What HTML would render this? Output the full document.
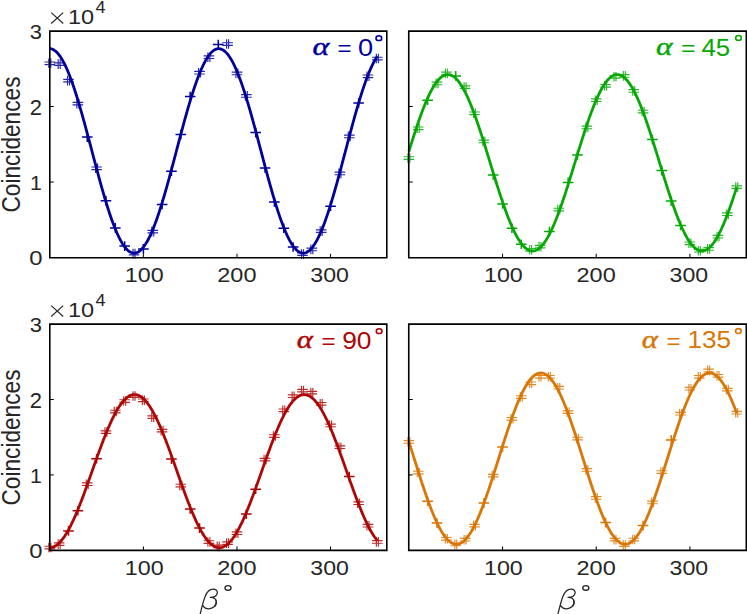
<!DOCTYPE html>
<html><head><meta charset="utf-8"><style>html,body{margin:0;padding:0;background:#fff;overflow:hidden}svg{display:block}</style></head><body>
<svg width="747" height="614" viewBox="0 0 747 614">
<rect width="747" height="614" fill="#fff"/>
<polyline points="49.80,48.67 50.74,48.75 51.67,48.96 52.61,49.29 53.54,49.75 54.48,50.33 55.41,51.03 56.35,51.85 57.29,52.79 58.22,53.85 59.16,55.02 60.09,56.32 61.03,57.72 61.97,59.24 62.90,60.87 63.84,62.61 64.77,64.46 65.71,66.41 66.64,68.46 67.58,70.61 68.52,72.86 69.45,75.21 70.39,77.64 71.32,80.16 72.26,82.77 73.20,85.47 74.13,88.24 75.07,91.08 76.00,94.00 76.94,96.99 77.88,100.04 78.81,103.16 79.75,106.33 80.68,109.56 81.62,112.83 82.55,116.15 83.49,119.52 84.43,122.92 85.36,126.36 86.30,129.82 87.23,133.31 88.17,136.83 89.10,140.36 90.04,143.90 90.98,147.45 91.91,151.00 92.85,154.56 93.78,158.11 94.72,161.65 95.66,165.18 96.59,168.69 97.53,172.18 98.46,175.64 99.40,179.08 100.33,182.48 101.27,185.84 102.21,189.16 103.14,192.43 104.08,195.66 105.01,198.83 105.95,201.94 106.89,204.99 107.82,207.97 108.76,210.88 109.69,213.73 110.63,216.49 111.56,219.18 112.50,221.79 113.44,224.30 114.37,226.73 115.31,229.07 116.24,231.32 117.18,233.46 118.12,235.51 119.05,237.45 119.99,239.29 120.92,241.03 121.86,242.65 122.79,244.16 123.73,245.56 124.67,246.85 125.60,248.02 126.54,249.07 127.47,250.00 128.41,250.82 129.35,251.51 130.28,252.08 131.22,252.53 132.15,252.86 133.09,253.06 134.02,253.14 134.96,253.09 135.90,252.93 136.83,252.63 137.77,252.22 138.70,251.68 139.64,251.02 140.58,250.24 141.51,249.34 142.45,248.32 143.38,247.19 144.32,245.93 145.25,244.57 146.19,243.08 147.13,241.49 148.06,239.79 149.00,237.98 149.93,236.06 150.87,234.04 151.81,231.92 152.74,229.71 153.68,227.40 154.61,224.99 155.55,222.50 156.49,219.92 157.42,217.25 158.36,214.51 159.29,211.68 160.23,208.79 161.16,205.82 162.10,202.79 163.04,199.70 163.97,196.55 164.91,193.34 165.84,190.08 166.78,186.77 167.71,183.42 168.65,180.03 169.59,176.60 170.52,173.15 171.46,169.66 172.39,166.16 173.33,162.63 174.27,159.10 175.20,155.55 176.14,151.99 177.07,148.44 178.01,144.89 178.94,141.34 179.88,137.81 180.82,134.29 181.75,130.79 182.69,127.32 183.62,123.88 184.56,120.46 185.50,117.09 186.43,113.75 187.37,110.46 188.30,107.22 189.24,104.04 190.18,100.91 191.11,97.83 192.05,94.83 192.98,91.89 193.92,89.02 194.85,86.23 195.79,83.52 196.73,80.88 197.66,78.34 198.60,75.88 199.53,73.51 200.47,71.23 201.40,69.05 202.34,66.97 203.28,64.99 204.21,63.12 205.15,61.35 206.08,59.69 207.02,58.14 207.96,56.70 208.89,55.37 209.83,54.16 210.76,53.07 211.70,52.10 212.63,51.24 213.57,50.51 214.51,49.90 215.44,49.41 216.38,49.04 217.31,48.80 218.25,48.68 219.19,48.68 220.12,48.81 221.06,49.06 221.99,49.43 222.93,49.93 223.87,50.54 224.80,51.28 225.74,52.14 226.67,53.12 227.61,54.22 228.54,55.44 229.48,56.77 230.42,58.21 231.35,59.77 232.29,61.43 233.22,63.21 234.16,65.09 235.09,67.07 236.03,69.16 236.97,71.34 237.90,73.62 238.84,75.99 239.77,78.46 240.71,81.01 241.65,83.65 242.58,86.37 243.52,89.16 244.45,92.03 245.39,94.98 246.32,97.98 247.26,101.06 248.20,104.19 249.13,107.38 250.07,110.63 251.00,113.92 251.94,117.25 252.88,120.63 253.81,124.04 254.75,127.49 255.68,130.96 256.62,134.46 257.55,137.98 258.49,141.52 259.43,145.06 260.36,148.61 261.30,152.17 262.23,155.72 263.17,159.27 264.11,162.81 265.04,166.33 265.98,169.84 266.91,173.32 267.85,176.77 268.78,180.20 269.72,183.59 270.66,186.93 271.59,190.24 272.53,193.50 273.46,196.70 274.40,199.85 275.34,202.94 276.27,205.97 277.21,208.93 278.14,211.83 279.08,214.64 280.01,217.38 280.95,220.04 281.89,222.62 282.82,225.11 283.76,227.51 284.69,229.82 285.63,232.03 286.57,234.15 287.50,236.16 288.44,238.07 289.37,239.87 290.31,241.57 291.25,243.16 292.18,244.64 293.12,246.00 294.05,247.25 294.99,248.38 295.92,249.39 296.86,250.28 297.80,251.06 298.73,251.71 299.67,252.24 300.60,252.65 301.54,252.94 302.48,253.10 303.41,253.14 304.35,253.05 305.28,252.84 306.22,252.51 307.15,252.06 308.09,251.48 309.03,250.78 309.96,249.96 310.90,249.02 311.83,247.96 312.77,246.79 313.70,245.50 314.64,244.09 315.58,242.57 316.51,240.94 317.45,239.21 318.38,237.36 319.32,235.41 320.26,233.36 321.19,231.21 322.13,228.96 323.06,226.62 324.00,224.18 324.94,221.66 325.87,219.05 326.81,216.36 327.74,213.59 328.68,210.74 329.61,207.82 330.55,204.84 331.49,201.78 332.42,198.67 333.36,195.50 334.29,192.27 335.23,189.00 336.17,185.68 337.10,182.31 338.04,178.91 338.97,175.47 339.91,172.01 340.84,168.52 341.78,165.01 342.72,161.48 343.65,157.93 344.59,154.38 345.52,150.83 346.46,147.27 347.39,143.72 348.33,140.18 349.27,136.65 350.20,133.14 351.14,129.65 352.07,126.19 353.01,122.75 353.95,119.35 354.88,115.99 355.82,112.67 356.75,109.40 357.69,106.17 358.62,103.00 359.56,99.89 360.50,96.84 361.43,93.86 362.37,90.94 363.30,88.10 364.24,85.33 365.18,82.64 366.11,80.04 367.05,77.52 367.98,75.09 368.92,72.75 369.85,70.50 370.79,68.36 371.73,66.31 372.66,64.36 373.60,62.52 374.53,60.79 375.47,59.17 376.41,57.65 377.34,56.25" fill="none" stroke="#00009c" stroke-width="2.8" stroke-linejoin="round"/>
<path d="M81.93,137.10h10.6M87.23,132.30v9.6M100.65,200.70h10.6M105.95,195.90v9.6M110.01,227.90h10.6M115.31,223.10v9.6M119.37,246.10h10.6M124.67,241.30v9.6M138.08,248.90h10.6M143.38,244.10v9.6M156.80,204.50h10.6M162.10,199.70v9.6M166.16,171.20h10.6M171.46,166.40v9.6M175.52,134.50h10.6M180.82,129.70v9.6M184.88,96.50h10.6M190.18,91.70v9.6M212.95,44.60h10.6M218.25,39.80v9.6M250.38,132.60h10.6M255.68,127.80v9.6M259.74,168.00h10.6M265.04,163.20v9.6M269.10,202.00h10.6M274.40,197.20v9.6M278.46,228.30h10.6M283.76,223.50v9.6M287.82,247.00h10.6M293.12,242.20v9.6M325.25,206.20h10.6M330.55,201.40v9.6M353.32,103.00h10.6M358.62,98.20v9.6" stroke="#00009c" stroke-width="1.5" fill="none"/>
<path d="M44.50,62.00h10.6M44.50,64.60h10.6M48.80,58.50v9.6M50.80,58.50v9.6M53.86,62.80h10.6M53.86,65.40h10.6M58.16,59.30v9.6M60.16,59.30v9.6M63.22,79.30h10.6M63.22,81.90h10.6M67.52,75.80v9.6M69.52,75.80v9.6M72.58,102.30h10.6M72.58,104.90h10.6M76.88,98.80v9.6M78.88,98.80v9.6M91.29,167.00h10.6M91.29,169.60h10.6M95.59,163.50v9.6M97.59,163.50v9.6M128.72,252.30h10.6M128.72,254.90h10.6M133.02,248.80v9.6M135.02,248.80v9.6M147.44,230.30h10.6M147.44,232.90h10.6M151.74,226.80v9.6M153.74,226.80v9.6M194.23,71.40h10.6M194.23,74.00h10.6M198.53,67.90v9.6M200.53,67.90v9.6M203.59,55.90h10.6M203.59,58.50h10.6M207.89,52.40v9.6M209.89,52.40v9.6M222.31,42.70h10.6M222.31,45.30h10.6M226.61,39.20v9.6M228.61,39.20v9.6M231.67,72.10h10.6M231.67,74.70h10.6M235.97,68.60v9.6M237.97,68.60v9.6M241.02,94.60h10.6M241.02,97.20h10.6M245.32,91.10v9.6M247.32,91.10v9.6M297.18,252.80h10.6M297.18,255.40h10.6M301.48,249.30v9.6M303.48,249.30v9.6M306.53,248.10h10.6M306.53,250.70h10.6M310.83,244.60v9.6M312.83,244.60v9.6M315.89,229.80h10.6M315.89,232.40h10.6M320.19,226.30v9.6M322.19,226.30v9.6M334.61,172.10h10.6M334.61,174.70h10.6M338.91,168.60v9.6M340.91,168.60v9.6M343.97,135.10h10.6M343.97,137.70h10.6M348.27,131.60v9.6M350.27,131.60v9.6M362.68,75.00h10.6M362.68,77.60h10.6M366.98,71.50v9.6M368.98,71.50v9.6M372.04,57.20h10.6M372.04,59.80h10.6M376.34,53.70v9.6M378.34,53.70v9.6" stroke="#00009c" stroke-width="1.15" stroke-opacity="0.85" fill="none"/>
<path d="M49.80,31.15H386.80V257.75H49.80Z" fill="none" stroke="#000000" stroke-width="1.6"/>
<path d="M143.38,257.75v-4.0M236.97,257.75v-4.0M330.55,257.75v-4.0M49.80,182.03h4.0M49.80,106.52h4.0" stroke="#000000" stroke-width="1"/>
<polyline points="408.90,151.48 409.84,148.45 410.77,145.43 411.71,142.44 412.65,139.47 413.58,136.53 414.52,133.62 415.46,130.74 416.39,127.91 417.33,125.12 418.27,122.37 419.20,119.67 420.14,117.02 421.08,114.43 422.01,111.89 422.95,109.42 423.89,107.01 424.82,104.67 425.76,102.40 426.70,100.20 427.63,98.08 428.57,96.04 429.51,94.07 430.44,92.19 431.38,90.39 432.32,88.69 433.25,87.07 434.19,85.54 435.13,84.10 436.06,82.76 437.00,81.52 437.94,80.37 438.87,79.33 439.81,78.38 440.75,77.54 441.68,76.80 442.62,76.16 443.56,75.63 444.49,75.20 445.43,74.88 446.37,74.66 447.30,74.55 448.24,74.55 449.18,74.65 450.11,74.86 451.05,75.17 451.99,75.60 452.92,76.12 453.86,76.75 454.80,77.49 455.73,78.32 456.67,79.26 457.61,80.30 458.54,81.44 459.48,82.68 460.42,84.01 461.35,85.44 462.29,86.96 463.23,88.58 464.16,90.28 465.10,92.07 466.04,93.95 466.97,95.91 467.91,97.95 468.85,100.06 469.78,102.26 470.72,104.52 471.66,106.86 472.59,109.26 473.53,111.73 474.47,114.26 475.40,116.85 476.34,119.49 477.28,122.19 478.21,124.93 479.15,127.73 480.09,130.56 481.02,133.43 481.96,136.34 482.90,139.28 483.83,142.24 484.77,145.24 485.71,148.25 486.64,151.28 487.58,154.32 488.52,157.38 489.45,160.44 490.39,163.50 491.33,166.57 492.26,169.63 493.20,172.68 494.14,175.71 495.07,178.74 496.01,181.74 496.95,184.72 497.88,187.67 498.82,190.60 499.76,193.49 500.69,196.34 501.63,199.15 502.57,201.92 503.50,204.65 504.44,207.32 505.38,209.93 506.31,212.49 507.25,214.99 508.19,217.43 509.12,219.80 510.06,222.11 511.00,224.34 511.93,226.49 512.87,228.57 513.81,230.57 514.74,232.49 515.68,234.33 516.62,236.08 517.55,237.74 518.49,239.30 519.43,240.78 520.36,242.16 521.30,243.45 522.24,244.64 523.17,245.73 524.11,246.72 525.05,247.61 525.98,248.40 526.92,249.08 527.86,249.66 528.79,250.14 529.73,250.51 530.67,250.77 531.60,250.93 532.54,250.98 533.48,250.92 534.41,250.76 535.35,250.50 536.29,250.12 537.22,249.64 538.16,249.06 539.10,248.37 540.03,247.58 540.97,246.69 541.91,245.69 542.84,244.60 543.78,243.40 544.72,242.11 545.65,240.73 546.59,239.24 547.53,237.67 548.46,236.01 549.40,234.26 550.34,232.42 551.27,230.50 552.21,228.49 553.15,226.41 554.08,224.25 555.02,222.02 555.96,219.71 556.89,217.34 557.83,214.90 558.77,212.39 559.70,209.83 560.64,207.21 561.58,204.54 562.51,201.82 563.45,199.04 564.39,196.23 565.32,193.38 566.26,190.48 567.20,187.56 568.13,184.60 569.07,181.62 570.01,178.62 570.94,175.59 571.88,172.56 572.82,169.51 573.75,166.45 574.69,163.38 575.63,160.32 576.56,157.26 577.50,154.20 578.44,151.16 579.37,148.13 580.31,145.12 581.25,142.13 582.18,139.16 583.12,136.22 584.06,133.32 584.99,130.45 585.93,127.61 586.87,124.83 587.80,122.08 588.74,119.39 589.68,116.75 590.61,114.16 591.55,111.63 592.49,109.17 593.42,106.77 594.36,104.43 595.30,102.17 596.23,99.98 597.17,97.86 598.11,95.83 599.04,93.87 599.98,92.00 600.92,90.21 601.85,88.51 602.79,86.90 603.73,85.38 604.66,83.96 605.60,82.63 606.54,81.39 607.47,80.26 608.41,79.22 609.35,78.29 610.28,77.46 611.22,76.73 612.16,76.10 613.09,75.58 614.03,75.16 614.97,74.85 615.90,74.64 616.84,74.55 617.78,74.55 618.71,74.67 619.65,74.89 620.59,75.21 621.52,75.65 622.46,76.18 623.40,76.82 624.33,77.57 625.27,78.42 626.21,79.37 627.14,80.42 628.08,81.57 629.02,82.81 629.95,84.16 630.89,85.60 631.83,87.13 632.76,88.75 633.70,90.46 634.64,92.26 635.57,94.15 636.51,96.12 637.45,98.16 638.38,100.29 639.32,102.49 640.26,104.76 641.19,107.11 642.13,109.52 643.07,111.99 644.00,114.53 644.94,117.12 645.88,119.77 646.81,122.47 647.75,125.22 648.69,128.02 649.62,130.86 650.56,133.73 651.50,136.64 652.43,139.59 653.37,142.56 654.31,145.55 655.24,148.56 656.18,151.60 657.12,154.64 658.05,157.70 658.99,160.76 659.93,163.82 660.86,166.89 661.80,169.95 662.74,172.99 663.67,176.03 664.61,179.05 665.55,182.05 666.48,185.03 667.42,187.98 668.36,190.90 669.29,193.79 670.23,196.64 671.17,199.45 672.10,202.21 673.04,204.93 673.98,207.59 674.91,210.20 675.85,212.76 676.79,215.25 677.72,217.68 678.66,220.05 679.60,222.34 680.53,224.57 681.47,226.71 682.41,228.79 683.34,230.78 684.28,232.69 685.22,234.51 686.15,236.25 687.09,237.90 688.03,239.46 688.96,240.93 689.90,242.30 690.84,243.58 691.77,244.76 692.71,245.84 693.65,246.82 694.58,247.70 695.52,248.48 696.46,249.15 697.39,249.72 698.33,250.18 699.27,250.54 700.20,250.79 701.14,250.94 702.08,250.98 703.01,250.91 703.95,250.74 704.89,250.46 705.82,250.08 706.76,249.59 707.70,248.99 708.63,248.29 709.57,247.49 710.51,246.59 711.44,245.58 712.38,244.48 713.32,243.27 714.25,241.97 715.19,240.57 716.13,239.08 717.06,237.50 718.00,235.83 718.94,234.07 719.87,232.22 720.81,230.29 721.75,228.28 722.68,226.19 723.62,224.02 724.56,221.78 725.49,219.47 726.43,217.09 727.37,214.64 728.30,212.13 729.24,209.56 730.18,206.94 731.11,204.26 732.05,201.53 732.99,198.75 733.92,195.93 734.86,193.08 735.80,190.18 736.73,187.25" fill="none" stroke="#06a806" stroke-width="2.8" stroke-linejoin="round"/>
<path d="M422.33,100.20h10.6M427.63,95.40v9.6M450.43,75.90h10.6M455.73,71.10v9.6M487.90,174.90h10.6M493.20,170.10v9.6M497.27,203.90h10.6M502.57,199.10v9.6M506.63,228.30h10.6M511.93,223.50v9.6M516.00,244.20h10.6M521.30,239.40v9.6M544.10,231.60h10.6M549.40,226.80v9.6M562.83,182.40h10.6M568.13,177.60v9.6M572.20,154.90h10.6M577.50,150.10v9.6M647.13,139.60h10.6M652.43,134.80v9.6M656.50,170.60h10.6M661.80,165.80v9.6M665.87,201.10h10.6M671.17,196.30v9.6M675.23,225.50h10.6M680.53,220.70v9.6" stroke="#06a806" stroke-width="1.5" fill="none"/>
<path d="M403.60,156.70h10.6M403.60,159.30h10.6M407.90,153.20v9.6M409.90,153.20v9.6M412.97,127.00h10.6M412.97,129.60h10.6M417.27,123.50v9.6M419.27,123.50v9.6M431.70,82.10h10.6M431.70,84.70h10.6M436.00,78.60v9.6M438.00,78.60v9.6M441.07,72.10h10.6M441.07,74.70h10.6M445.37,68.60v9.6M447.37,68.60v9.6M459.80,85.80h10.6M459.80,88.40h10.6M464.10,82.30v9.6M466.10,82.30v9.6M469.17,112.00h10.6M469.17,114.60h10.6M473.47,108.50v9.6M475.47,108.50v9.6M478.53,140.10h10.6M478.53,142.70h10.6M482.83,136.60v9.6M484.83,136.60v9.6M525.37,248.50h10.6M525.37,251.10h10.6M529.67,245.00v9.6M531.67,245.00v9.6M534.73,245.30h10.6M534.73,247.90h10.6M539.03,241.80v9.6M541.03,241.80v9.6M553.47,208.20h10.6M553.47,210.80h10.6M557.77,204.70v9.6M559.77,204.70v9.6M581.57,126.10h10.6M581.57,128.70h10.6M585.87,122.60v9.6M587.87,122.60v9.6M590.93,98.90h10.6M590.93,101.50h10.6M595.23,95.40v9.6M597.23,95.40v9.6M600.30,84.50h10.6M600.30,87.10h10.6M604.60,81.00v9.6M606.60,81.00v9.6M609.67,75.50h10.6M609.67,78.10h10.6M613.97,72.00v9.6M615.97,72.00v9.6M619.03,74.60h10.6M619.03,77.20h10.6M623.33,71.10v9.6M625.33,71.10v9.6M628.40,89.60h10.6M628.40,92.20h10.6M632.70,86.10v9.6M634.70,86.10v9.6M637.77,110.20h10.6M637.77,112.80h10.6M642.07,106.70v9.6M644.07,106.70v9.6M684.60,242.00h10.6M684.60,244.60h10.6M688.90,238.50v9.6M690.90,238.50v9.6M693.97,249.40h10.6M693.97,252.00h10.6M698.27,245.90v9.6M700.27,245.90v9.6M703.33,247.60h10.6M703.33,250.20h10.6M707.63,244.10v9.6M709.63,244.10v9.6M712.70,235.40h10.6M712.70,238.00h10.6M717.00,231.90v9.6M719.00,231.90v9.6M722.07,212.90h10.6M722.07,215.50h10.6M726.37,209.40v9.6M728.37,209.40v9.6M731.43,185.80h10.6M731.43,188.40h10.6M735.73,182.30v9.6M737.73,182.30v9.6" stroke="#06a806" stroke-width="1.15" stroke-opacity="0.85" fill="none"/>
<path d="M408.75,31.15H746.30V257.75H408.75Z" fill="none" stroke="#000000" stroke-width="1.6"/>
<path d="M502.57,257.75v-4.0M596.23,257.75v-4.0M689.90,257.75v-4.0M408.75,182.03h4.0M408.75,106.52h4.0" stroke="#000000" stroke-width="1"/>
<polyline points="49.80,547.68 50.74,547.62 51.67,547.47 52.61,547.23 53.54,546.90 54.48,546.48 55.41,545.97 56.35,545.37 57.29,544.67 58.22,543.89 59.16,543.03 60.09,542.07 61.03,541.04 61.97,539.91 62.90,538.71 63.84,537.42 64.77,536.06 65.71,534.61 66.64,533.09 67.58,531.50 68.52,529.83 69.45,528.09 70.39,526.29 71.32,524.41 72.26,522.48 73.20,520.48 74.13,518.42 75.07,516.31 76.00,514.14 76.94,511.92 77.88,509.65 78.81,507.34 79.75,504.98 80.68,502.58 81.62,500.14 82.55,497.67 83.49,495.17 84.43,492.63 85.36,490.07 86.30,487.49 87.23,484.89 88.17,482.27 89.10,479.64 90.04,477.00 90.98,474.35 91.91,471.70 92.85,469.05 93.78,466.40 94.72,463.76 95.66,461.12 96.59,458.50 97.53,455.89 98.46,453.30 99.40,450.73 100.33,448.19 101.27,445.67 102.21,443.18 103.14,440.73 104.08,438.32 105.01,435.94 105.95,433.61 106.89,431.32 107.82,429.08 108.76,426.88 109.69,424.75 110.63,422.67 111.56,420.64 112.50,418.68 113.44,416.78 114.37,414.94 115.31,413.18 116.24,411.48 117.18,409.85 118.12,408.30 119.05,406.83 119.99,405.43 120.92,404.11 121.86,402.87 122.79,401.71 123.73,400.63 124.67,399.64 125.60,398.74 126.54,397.92 127.47,397.19 128.41,396.55 129.35,396.00 130.28,395.54 131.22,395.17 132.15,394.89 133.09,394.71 134.02,394.61 134.96,394.61 135.90,394.70 136.83,394.88 137.77,395.15 138.70,395.51 139.64,395.97 140.58,396.51 141.51,397.15 142.45,397.87 143.38,398.68 144.32,399.58 145.25,400.56 146.19,401.63 147.13,402.79 148.06,404.02 149.00,405.34 149.93,406.73 150.87,408.20 151.81,409.75 152.74,411.37 153.68,413.06 154.61,414.83 155.55,416.66 156.49,418.55 157.42,420.51 158.36,422.53 159.29,424.61 160.23,426.74 161.16,428.93 162.10,431.17 163.04,433.45 163.97,435.78 164.91,438.16 165.84,440.57 166.78,443.02 167.71,445.50 168.65,448.02 169.59,450.56 170.52,453.13 171.46,455.72 172.39,458.32 173.33,460.95 174.27,463.58 175.20,466.22 176.14,468.87 177.07,471.53 178.01,474.18 178.94,476.83 179.88,479.47 180.82,482.10 181.75,484.72 182.69,487.32 183.62,489.90 184.56,492.46 185.50,495.00 186.43,497.50 187.37,499.98 188.30,502.42 189.24,504.82 190.18,507.18 191.11,509.50 192.05,511.77 192.98,513.99 193.92,516.17 194.85,518.28 195.79,520.34 196.73,522.35 197.66,524.29 198.60,526.16 199.53,527.97 200.47,529.72 201.40,531.39 202.34,532.99 203.28,534.51 204.21,535.96 205.15,537.33 206.08,538.62 207.02,539.84 207.96,540.96 208.89,542.01 209.83,542.97 210.76,543.84 211.70,544.63 212.63,545.32 213.57,545.93 214.51,546.45 215.44,546.88 216.38,547.21 217.31,547.46 218.25,547.61 219.19,547.67 220.12,547.64 221.06,547.52 221.99,547.31 222.93,547.00 223.87,546.61 224.80,546.12 225.74,545.54 226.67,544.88 227.61,544.12 228.54,543.28 229.48,542.35 230.42,541.33 231.35,540.24 232.29,539.05 233.22,537.79 234.16,536.45 235.09,535.02 236.03,533.52 236.97,531.95 237.90,530.30 238.84,528.59 239.77,526.80 240.71,524.94 241.65,523.03 242.58,521.04 243.52,519.00 244.45,516.91 245.39,514.75 246.32,512.55 247.26,510.29 248.20,507.99 249.13,505.64 250.07,503.25 251.00,500.83 251.94,498.36 252.88,495.87 253.81,493.34 254.75,490.79 255.68,488.22 256.62,485.62 257.55,483.01 258.49,480.38 259.43,477.74 260.36,475.10 261.30,472.45 262.23,469.79 263.17,467.14 264.11,464.50 265.04,461.86 265.98,459.23 266.91,456.62 267.85,454.02 268.78,451.45 269.72,448.90 270.66,446.37 271.59,443.88 272.53,441.41 273.46,438.99 274.40,436.60 275.34,434.25 276.27,431.95 277.21,429.70 278.14,427.49 279.08,425.34 280.01,423.24 280.95,421.20 281.89,419.22 282.82,417.30 283.76,415.45 284.69,413.67 285.63,411.95 286.57,410.30 287.50,408.73 288.44,407.23 289.37,405.81 290.31,404.47 291.25,403.20 292.18,402.02 293.12,400.93 294.05,399.91 294.99,398.98 295.92,398.14 296.86,397.39 297.80,396.72 298.73,396.15 299.67,395.66 300.60,395.27 301.54,394.96 302.48,394.75 303.41,394.63 304.35,394.60 305.28,394.66 306.22,394.82 307.15,395.07 308.09,395.40 309.03,395.83 309.96,396.35 310.90,396.96 311.83,397.66 312.77,398.45 313.70,399.32 314.64,400.28 315.58,401.33 316.51,402.46 317.45,403.67 318.38,404.96 319.32,406.33 320.26,407.78 321.19,409.31 322.13,410.91 323.06,412.58 324.00,414.33 324.94,416.14 325.87,418.01 326.81,419.96 327.74,421.96 328.68,424.02 329.61,426.14 330.55,428.31 331.49,430.54 332.42,432.81 333.36,435.13 334.29,437.49 335.23,439.89 336.17,442.33 337.10,444.81 338.04,447.31 338.97,449.85 339.91,452.41 340.84,454.99 341.78,457.59 342.72,460.21 343.65,462.84 344.59,465.48 345.52,468.13 346.46,470.78 347.39,473.44 348.33,476.09 349.27,478.73 350.20,481.37 351.14,483.99 352.07,486.59 353.01,489.18 353.95,491.75 354.88,494.29 355.82,496.81 356.75,499.29 357.69,501.74 358.62,504.15 359.56,506.52 360.50,508.85 361.43,511.14 362.37,513.38 363.30,515.56 364.24,517.70 365.18,519.77 366.11,521.79 367.05,523.75 367.98,525.65 368.92,527.47 369.85,529.24 370.79,530.93 371.73,532.55 372.66,534.09 373.60,535.56 374.53,536.96 375.47,538.27 376.41,539.50 377.34,540.66" fill="none" stroke="#ae0606" stroke-width="2.8" stroke-linejoin="round"/>
<path d="M63.22,530.90h10.6M68.52,526.10v9.6M72.58,510.70h10.6M77.88,505.90v9.6M91.29,458.70h10.6M96.59,453.90v9.6M166.16,459.10h10.6M171.46,454.30v9.6M184.88,509.00h10.6M190.18,504.20v9.6M194.23,528.10h10.6M199.53,523.30v9.6M241.02,514.10h10.6M246.32,509.30v9.6M250.38,489.20h10.6M255.68,484.40v9.6M343.97,476.60h10.6M349.27,471.80v9.6" stroke="#ae0606" stroke-width="1.5" fill="none"/>
<path d="M44.50,546.20h10.6M44.50,548.80h10.6M48.80,542.70v9.6M50.80,542.70v9.6M53.86,542.80h10.6M53.86,545.40h10.6M58.16,539.30v9.6M60.16,539.30v9.6M81.93,482.90h10.6M81.93,485.50h10.6M86.23,479.40v9.6M88.23,479.40v9.6M100.65,430.80h10.6M100.65,433.40h10.6M104.95,427.30v9.6M106.95,427.30v9.6M110.01,410.20h10.6M110.01,412.80h10.6M114.31,406.70v9.6M116.31,406.70v9.6M119.37,399.70h10.6M119.37,402.30h10.6M123.67,396.20v9.6M125.67,396.20v9.6M128.72,394.70h10.6M128.72,397.30h10.6M133.02,391.20v9.6M135.02,391.20v9.6M138.08,399.00h10.6M138.08,401.60h10.6M142.38,395.50v9.6M144.38,395.50v9.6M147.44,415.80h10.6M147.44,418.40h10.6M151.74,412.30v9.6M153.74,412.30v9.6M156.80,429.30h10.6M156.80,431.90h10.6M161.10,425.80v9.6M163.10,425.80v9.6M175.52,484.20h10.6M175.52,486.80h10.6M179.82,480.70v9.6M181.82,480.70v9.6M203.59,540.70h10.6M203.59,543.30h10.6M207.89,537.20v9.6M209.89,537.20v9.6M212.95,545.10h10.6M212.95,547.70h10.6M217.25,541.60v9.6M219.25,541.60v9.6M222.31,541.80h10.6M222.31,544.40h10.6M226.61,538.30v9.6M228.61,538.30v9.6M231.67,531.90h10.6M231.67,534.50h10.6M235.97,528.40v9.6M237.97,528.40v9.6M259.74,458.30h10.6M259.74,460.90h10.6M264.04,454.80v9.6M266.04,454.80v9.6M269.10,434.70h10.6M269.10,437.30h10.6M273.40,431.20v9.6M275.40,431.20v9.6M278.46,409.00h10.6M278.46,411.60h10.6M282.76,405.50v9.6M284.76,405.50v9.6M287.82,394.90h10.6M287.82,397.50h10.6M292.12,391.40v9.6M294.12,391.40v9.6M297.18,389.30h10.6M297.18,391.90h10.6M301.48,385.80v9.6M303.48,385.80v9.6M306.53,391.30h10.6M306.53,393.90h10.6M310.83,387.80v9.6M312.83,387.80v9.6M315.89,402.50h10.6M315.89,405.10h10.6M320.19,399.00v9.6M322.19,399.00v9.6M325.25,424.10h10.6M325.25,426.70h10.6M329.55,420.60v9.6M331.55,420.60v9.6M334.61,445.90h10.6M334.61,448.50h10.6M338.91,442.40v9.6M340.91,442.40v9.6M353.32,501.90h10.6M353.32,504.50h10.6M357.62,498.40v9.6M359.62,498.40v9.6M362.68,524.40h10.6M362.68,527.00h10.6M366.98,520.90v9.6M368.98,520.90v9.6M372.04,540.60h10.6M372.04,543.20h10.6M376.34,537.10v9.6M378.34,537.10v9.6" stroke="#ae0606" stroke-width="1.15" stroke-opacity="0.85" fill="none"/>
<path d="M49.80,324.15H386.80V550.40H49.80Z" fill="none" stroke="#000000" stroke-width="1.6"/>
<path d="M143.38,550.40v-4.0M236.97,550.40v-4.0M330.55,550.40v-4.0M49.80,474.93h4.0M49.80,399.47h4.0" stroke="#000000" stroke-width="1"/>
<polyline points="408.90,441.74 409.84,444.67 410.77,447.63 411.71,450.60 412.65,453.57 413.58,456.56 414.52,459.54 415.46,462.53 416.39,465.51 417.33,468.48 418.27,471.44 419.20,474.39 420.14,477.31 421.08,480.21 422.01,483.09 422.95,485.94 423.89,488.75 424.82,491.53 425.76,494.27 426.70,496.96 427.63,499.61 428.57,502.20 429.51,504.75 430.44,507.23 431.38,509.66 432.32,512.03 433.25,514.33 434.19,516.57 435.13,518.73 436.06,520.82 437.00,522.84 437.94,524.77 438.87,526.63 439.81,528.40 440.75,530.09 441.68,531.69 442.62,533.21 443.56,534.63 444.49,535.96 445.43,537.20 446.37,538.34 447.30,539.38 448.24,540.33 449.18,541.17 450.11,541.92 451.05,542.56 451.99,543.11 452.92,543.55 453.86,543.88 454.80,544.11 455.73,544.24 456.67,544.27 457.61,544.19 458.54,544.01 459.48,543.72 460.42,543.33 461.35,542.83 462.29,542.24 463.23,541.54 464.16,540.74 465.10,539.84 466.04,538.85 466.97,537.75 467.91,536.56 468.85,535.27 469.78,533.90 470.72,532.43 471.66,530.87 472.59,529.22 473.53,527.48 474.47,525.67 475.40,523.77 476.34,521.79 477.28,519.73 478.21,517.60 479.15,515.40 480.09,513.13 481.02,510.80 481.96,508.40 482.90,505.94 483.83,503.42 484.77,500.85 485.71,498.22 486.64,495.55 487.58,492.83 488.52,490.08 489.45,487.28 490.39,484.45 491.33,481.59 492.26,478.70 493.20,475.78 494.14,472.84 495.07,469.89 496.01,466.92 496.95,463.95 497.88,460.96 498.82,457.98 499.76,454.99 500.69,452.01 501.63,449.04 502.57,446.08 503.50,443.13 504.44,440.20 505.38,437.30 506.31,434.42 507.25,431.57 508.19,428.75 509.12,425.97 510.06,423.23 511.00,420.53 511.93,417.88 512.87,415.28 513.81,412.73 514.74,410.24 515.68,407.81 516.62,405.43 517.55,403.13 518.49,400.89 519.43,398.72 520.36,396.62 521.30,394.60 522.24,392.65 523.17,390.79 524.11,389.01 525.05,387.31 525.98,385.70 526.92,384.18 527.86,382.75 528.79,381.41 529.73,380.17 530.67,379.02 531.60,377.96 532.54,377.01 533.48,376.16 534.41,375.40 535.35,374.75 536.29,374.20 537.22,373.75 538.16,373.40 539.10,373.16 540.03,373.02 540.97,372.99 541.91,373.06 542.84,373.23 543.78,373.51 544.72,373.89 545.65,374.38 546.59,374.96 547.53,375.65 548.46,376.44 549.40,377.33 550.34,378.32 551.27,379.41 552.21,380.59 553.15,381.87 554.08,383.24 555.02,384.70 555.96,386.25 556.89,387.89 557.83,389.62 558.77,391.43 559.70,393.32 560.64,395.29 561.58,397.34 562.51,399.46 563.45,401.66 564.39,403.92 565.32,406.25 566.26,408.65 567.20,411.10 568.13,413.61 569.07,416.18 570.01,418.80 570.94,421.47 571.88,424.18 572.82,426.94 573.75,429.73 574.69,432.56 575.63,435.42 576.56,438.31 577.50,441.22 578.44,444.15 579.37,447.11 580.31,450.07 581.25,453.05 582.18,456.03 583.12,459.02 584.06,462.00 584.99,464.98 585.93,467.96 586.87,470.92 587.80,473.87 588.74,476.80 589.68,479.70 590.61,482.59 591.55,485.44 592.49,488.26 593.42,491.04 594.36,493.78 595.30,496.49 596.23,499.14 597.17,501.75 598.11,504.30 599.04,506.80 599.98,509.24 600.92,511.62 601.85,513.93 602.79,516.18 603.73,518.35 604.66,520.46 605.60,522.49 606.54,524.44 607.47,526.31 608.41,528.10 609.35,529.80 610.28,531.42 611.22,532.95 612.16,534.39 613.09,535.73 614.03,536.99 614.97,538.14 615.90,539.20 616.84,540.17 617.78,541.03 618.71,541.79 619.65,542.46 620.59,543.02 621.52,543.48 622.46,543.83 623.40,544.08 624.33,544.23 625.27,544.27 626.21,544.21 627.14,544.05 628.08,543.78 629.02,543.40 629.95,542.93 630.89,542.35 631.83,541.67 632.76,540.89 633.70,540.01 634.64,539.03 635.57,537.95 636.51,536.78 637.45,535.51 638.38,534.15 639.32,532.69 640.26,531.15 641.19,529.51 642.13,527.80 643.07,525.99 644.00,524.11 644.94,522.14 645.88,520.10 646.81,517.99 647.75,515.80 648.69,513.54 649.62,511.21 650.56,508.83 651.50,506.38 652.43,503.87 653.37,501.30 654.31,498.69 655.24,496.03 656.18,493.32 657.12,490.57 658.05,487.78 658.99,484.95 659.93,482.09 660.86,479.21 661.80,476.30 662.74,473.36 663.67,470.41 664.61,467.45 665.55,464.47 666.48,461.49 667.42,458.50 668.36,455.52 669.29,452.54 670.23,449.56 671.17,446.60 672.10,443.65 673.04,440.72 673.98,437.81 674.91,434.93 675.85,432.07 676.79,429.25 677.72,426.46 678.66,423.71 679.60,421.01 680.53,418.35 681.47,415.74 682.41,413.18 683.34,410.68 684.28,408.23 685.22,405.85 686.15,403.53 687.09,401.28 688.03,399.09 688.96,396.98 689.90,394.95 690.84,392.99 691.77,391.11 692.71,389.32 693.65,387.60 694.58,385.98 695.52,384.44 696.46,382.99 697.39,381.64 698.33,380.38 699.27,379.21 700.20,378.14 701.14,377.17 702.08,376.30 703.01,375.53 703.95,374.85 704.89,374.29 705.82,373.82 706.76,373.45 707.70,373.19 708.63,373.04 709.57,372.99 710.51,373.04 711.44,373.19 712.38,373.45 713.32,373.82 714.25,374.28 715.19,374.85 716.13,375.52 717.06,376.29 718.00,377.17 718.94,378.14 719.87,379.21 720.81,380.37 721.75,381.63 722.68,382.99 723.62,384.43 724.56,385.97 725.49,387.60 726.43,389.31 727.37,391.10 728.30,392.98 729.24,394.94 730.18,396.97 731.11,399.08 732.05,401.26 732.99,403.52 733.92,405.84 734.86,408.22 735.80,410.66 736.73,413.17" fill="none" stroke="#d97604" stroke-width="2.8" stroke-linejoin="round"/>
<path d="M422.33,501.30h10.6M427.63,496.50v9.6M431.70,523.10h10.6M437.00,518.30v9.6M478.53,503.10h10.6M483.83,498.30v9.6M497.27,446.90h10.6M502.57,442.10v9.6M600.30,522.60h10.6M605.60,517.80v9.6M637.77,525.60h10.6M643.07,520.80v9.6M665.87,439.90h10.6M671.17,435.10v9.6" stroke="#d97604" stroke-width="1.5" fill="none"/>
<path d="M403.60,440.60h10.6M403.60,443.20h10.6M407.90,437.10v9.6M409.90,437.10v9.6M412.97,471.20h10.6M412.97,473.80h10.6M417.27,467.70v9.6M419.27,467.70v9.6M441.07,537.50h10.6M441.07,540.10h10.6M445.37,534.00v9.6M447.37,534.00v9.6M450.43,543.10h10.6M450.43,545.70h10.6M454.73,539.60v9.6M456.73,539.60v9.6M459.80,538.40h10.6M459.80,541.00h10.6M464.10,534.90v9.6M466.10,534.90v9.6M469.17,524.30h10.6M469.17,526.90h10.6M473.47,520.80v9.6M475.47,520.80v9.6M487.90,474.30h10.6M487.90,476.90h10.6M492.20,470.80v9.6M494.20,470.80v9.6M506.63,417.50h10.6M506.63,420.10h10.6M510.93,414.00v9.6M512.93,414.00v9.6M516.00,395.70h10.6M516.00,398.30h10.6M520.30,392.20v9.6M522.30,392.20v9.6M525.37,382.00h10.6M525.37,384.60h10.6M529.67,378.50v9.6M531.67,378.50v9.6M534.73,375.50h10.6M534.73,378.10h10.6M539.03,372.00v9.6M541.03,372.00v9.6M544.10,375.50h10.6M544.10,378.10h10.6M548.40,372.00v9.6M550.40,372.00v9.6M553.47,386.40h10.6M553.47,389.00h10.6M557.77,382.90v9.6M559.77,382.90v9.6M562.83,410.80h10.6M562.83,413.40h10.6M567.13,407.30v9.6M569.13,407.30v9.6M572.20,437.20h10.6M572.20,439.80h10.6M576.50,433.70v9.6M578.50,433.70v9.6M581.57,468.60h10.6M581.57,471.20h10.6M585.87,465.10v9.6M587.87,465.10v9.6M590.93,496.60h10.6M590.93,499.20h10.6M595.23,493.10v9.6M597.23,493.10v9.6M609.67,538.30h10.6M609.67,540.90h10.6M613.97,534.80v9.6M615.97,534.80v9.6M619.03,543.70h10.6M619.03,546.30h10.6M623.33,540.20v9.6M625.33,540.20v9.6M628.40,538.20h10.6M628.40,540.80h10.6M632.70,534.70v9.6M634.70,534.70v9.6M647.13,501.10h10.6M647.13,503.70h10.6M651.43,497.60v9.6M653.43,497.60v9.6M656.50,470.70h10.6M656.50,473.30h10.6M660.80,467.20v9.6M662.80,467.20v9.6M675.23,412.40h10.6M675.23,415.00h10.6M679.53,408.90v9.6M681.53,408.90v9.6M684.60,387.40h10.6M684.60,390.00h10.6M688.90,383.90v9.6M690.90,383.90v9.6M693.97,375.50h10.6M693.97,378.10h10.6M698.27,372.00v9.6M700.27,372.00v9.6M703.33,369.10h10.6M703.33,371.70h10.6M707.63,365.60v9.6M709.63,365.60v9.6M712.70,374.50h10.6M712.70,377.10h10.6M717.00,371.00v9.6M719.00,371.00v9.6M722.07,388.30h10.6M722.07,390.90h10.6M726.37,384.80v9.6M728.37,384.80v9.6M731.43,411.40h10.6M731.43,414.00h10.6M735.73,407.90v9.6M737.73,407.90v9.6" stroke="#d97604" stroke-width="1.15" stroke-opacity="0.85" fill="none"/>
<path d="M408.75,324.15H746.30V550.40H408.75Z" fill="none" stroke="#000000" stroke-width="1.6"/>
<path d="M502.57,550.40v-4.0M596.23,550.40v-4.0M689.90,550.40v-4.0M408.75,474.93h4.0M408.75,399.47h4.0" stroke="#000000" stroke-width="1"/>
<text transform="translate(124.76,281.70) scale(1.1225,1)" style="font-family:'Liberation Sans', sans-serif;font-style:normal;font-weight:normal;font-size:20.76px" fill="#262626" >100</text>
<text transform="translate(217.29,281.70) scale(1.1316,1)" style="font-family:'Liberation Sans', sans-serif;font-style:normal;font-weight:normal;font-size:20.76px" fill="#262626" >200</text>
<text transform="translate(310.27,281.70) scale(1.1138,1)" style="font-family:'Liberation Sans', sans-serif;font-style:normal;font-weight:normal;font-size:20.76px" fill="#262626" >300</text>
<text transform="translate(483.94,281.70) scale(1.1225,1)" style="font-family:'Liberation Sans', sans-serif;font-style:normal;font-weight:normal;font-size:20.76px" fill="#262626" >100</text>
<text transform="translate(576.55,281.70) scale(1.1316,1)" style="font-family:'Liberation Sans', sans-serif;font-style:normal;font-weight:normal;font-size:20.76px" fill="#262626" >200</text>
<text transform="translate(669.62,281.70) scale(1.1138,1)" style="font-family:'Liberation Sans', sans-serif;font-style:normal;font-weight:normal;font-size:20.76px" fill="#262626" >300</text>
<text transform="translate(124.76,574.55) scale(1.1225,1)" style="font-family:'Liberation Sans', sans-serif;font-style:normal;font-weight:normal;font-size:20.76px" fill="#262626" >100</text>
<text transform="translate(217.29,574.55) scale(1.1316,1)" style="font-family:'Liberation Sans', sans-serif;font-style:normal;font-weight:normal;font-size:20.76px" fill="#262626" >200</text>
<text transform="translate(310.27,574.55) scale(1.1138,1)" style="font-family:'Liberation Sans', sans-serif;font-style:normal;font-weight:normal;font-size:20.76px" fill="#262626" >300</text>
<text transform="translate(483.94,574.55) scale(1.1225,1)" style="font-family:'Liberation Sans', sans-serif;font-style:normal;font-weight:normal;font-size:20.76px" fill="#262626" >100</text>
<text transform="translate(576.55,574.55) scale(1.1316,1)" style="font-family:'Liberation Sans', sans-serif;font-style:normal;font-weight:normal;font-size:20.76px" fill="#262626" >200</text>
<text transform="translate(669.62,574.55) scale(1.1138,1)" style="font-family:'Liberation Sans', sans-serif;font-style:normal;font-weight:normal;font-size:20.76px" fill="#262626" >300</text>
<text transform="translate(29.37,265.40) scale(1.1645,1)" style="font-family:'Liberation Sans', sans-serif;font-style:normal;font-weight:normal;font-size:20.48px" fill="#262626" >0</text>
<text transform="translate(30.07,189.99) scale(1.0561,1)" style="font-family:'Liberation Sans', sans-serif;font-style:normal;font-weight:normal;font-size:20.20px" fill="#262626" >1</text>
<text transform="translate(29.80,115.02) scale(1.0287,1)" style="font-family:'Liberation Sans', sans-serif;font-style:normal;font-weight:normal;font-size:21.34px" fill="#262626" >2</text>
<text transform="translate(29.86,38.90) scale(1.0637,1)" style="font-family:'Liberation Sans', sans-serif;font-style:normal;font-weight:normal;font-size:20.62px" fill="#262626" >3</text>
<path d="M51.2,12.60L63.2,23.50M63.2,12.60L51.2,23.50" stroke="#262626" stroke-width="1.15" fill="none"/>
<text transform="translate(68.00,23.70) scale(1.1275,1)" style="font-family:'Liberation Sans', sans-serif;font-style:normal;font-weight:normal;font-size:20.90px" fill="#262626" >10</text>
<text transform="translate(95.49,12.60) scale(1.0995,1)" style="font-family:'Liberation Sans', sans-serif;font-style:normal;font-weight:normal;font-size:16.42px" fill="#262626" >4</text>

<text transform="translate(29.37,558.25) scale(1.1645,1)" style="font-family:'Liberation Sans', sans-serif;font-style:normal;font-weight:normal;font-size:20.48px" fill="#262626" >0</text>
<text transform="translate(30.07,482.89) scale(1.0561,1)" style="font-family:'Liberation Sans', sans-serif;font-style:normal;font-weight:normal;font-size:20.20px" fill="#262626" >1</text>
<text transform="translate(29.80,407.97) scale(1.0287,1)" style="font-family:'Liberation Sans', sans-serif;font-style:normal;font-weight:normal;font-size:21.34px" fill="#262626" >2</text>
<text transform="translate(29.86,331.90) scale(1.0637,1)" style="font-family:'Liberation Sans', sans-serif;font-style:normal;font-weight:normal;font-size:20.62px" fill="#262626" >3</text>
<path d="M51.2,305.60L63.2,316.50M63.2,305.60L51.2,316.50" stroke="#262626" stroke-width="1.15" fill="none"/>
<text transform="translate(68.00,316.70) scale(1.1275,1)" style="font-family:'Liberation Sans', sans-serif;font-style:normal;font-weight:normal;font-size:20.90px" fill="#262626" >10</text>
<text transform="translate(95.49,305.60) scale(1.0995,1)" style="font-family:'Liberation Sans', sans-serif;font-style:normal;font-weight:normal;font-size:16.42px" fill="#262626" >4</text>

<text transform="translate(312.40,54.74) scale(1.2832,1)" style="font-family:'Liberation Serif', serif;font-style:italic;font-weight:normal;font-size:24.90px" fill="#00009c" stroke="#00009c" stroke-width="0.45">α</text>
<text transform="translate(337.52,55.80) scale(1.0931,1)" style="font-family:'Liberation Sans', sans-serif;font-style:normal;font-weight:normal;font-size:22.03px" fill="#00009c" >=</text>
<text transform="translate(358.04,55.57) scale(1.1461,1)" style="font-family:'Liberation Sans', sans-serif;font-style:normal;font-weight:normal;font-size:23.73px" fill="#00009c" >0</text>
<ellipse cx="378.85" cy="38.15" rx="2.85" ry="2.4" fill="none" stroke="#00009c" stroke-width="1.6"/>
<text transform="translate(656.06,54.55) scale(1.2850,1)" style="font-family:'Liberation Serif', serif;font-style:italic;font-weight:normal;font-size:24.48px" fill="#06a806" stroke="#06a806" stroke-width="0.45">α</text>
<text transform="translate(680.88,55.80) scale(1.1304,1)" style="font-family:'Liberation Sans', sans-serif;font-style:normal;font-weight:normal;font-size:22.03px" fill="#06a806" >=</text>
<text transform="translate(701.41,55.56) scale(1.0558,1)" style="font-family:'Liberation Sans', sans-serif;font-style:normal;font-weight:normal;font-size:24.51px" fill="#06a806" >45</text>
<ellipse cx="738.50" cy="37.90" rx="2.85" ry="2.4" fill="none" stroke="#06a806" stroke-width="1.6"/>
<text transform="translate(296.79,347.55) scale(1.2531,1)" style="font-family:'Liberation Serif', serif;font-style:italic;font-weight:normal;font-size:24.48px" fill="#ae0606" stroke="#ae0606" stroke-width="0.45">α</text>
<text transform="translate(321.62,348.75) scale(1.1087,1)" style="font-family:'Liberation Sans', sans-serif;font-style:normal;font-weight:normal;font-size:21.72px" fill="#ae0606" >=</text>
<text transform="translate(342.16,348.86) scale(1.0932,1)" style="font-family:'Liberation Sans', sans-serif;font-style:normal;font-weight:normal;font-size:24.15px" fill="#ae0606" >90</text>
<ellipse cx="379.15" cy="331.15" rx="2.85" ry="2.4" fill="none" stroke="#ae0606" stroke-width="1.6"/>
<text transform="translate(641.79,347.54) scale(1.2220,1)" style="font-family:'Liberation Serif', serif;font-style:italic;font-weight:normal;font-size:25.11px" fill="#d97604" stroke="#d97604" stroke-width="0.45">α</text>
<text transform="translate(666.62,348.75) scale(1.1087,1)" style="font-family:'Liberation Sans', sans-serif;font-style:normal;font-weight:normal;font-size:21.72px" fill="#d97604" >=</text>
<text transform="translate(687.51,348.46) scale(1.0754,1)" style="font-family:'Liberation Sans', sans-serif;font-style:normal;font-weight:normal;font-size:24.29px" fill="#d97604" >135</text>
<ellipse cx="738.40" cy="331.05" rx="2.85" ry="2.4" fill="none" stroke="#d97604" stroke-width="1.6"/>
<text transform="translate(19.60,212.55) rotate(-90) scale(0.8521,1)" style="font-family:'Liberation Sans', sans-serif;font-style:normal;font-weight:normal;font-size:26.60px" fill="#262626">Coincidences</text>
<text transform="translate(19.60,505.55) rotate(-90) scale(0.8521,1)" style="font-family:'Liberation Sans', sans-serif;font-style:normal;font-weight:normal;font-size:26.60px" fill="#262626">Coincidences</text>
<g transform="translate(0.00,0)"><path d="M200.0,614.8C201.3,609.5 203.2,601 205.3,596C207,591.8 209.6,589.1 213.1,589.1C216,589.1 217.6,590.7 217.3,592.9C217,595.4 214.2,597.3 210.3,597.4M210.3,597.4C213.8,597.3 216.4,599 216.3,602.1C216.2,605.8 212.9,608.8 208.9,608.8C206.1,608.8 204.1,607.6 203.0,605.6" fill="none" stroke="#262626" stroke-width="1.25" stroke-linecap="round"/><path d="M215.6,599.5C216.6,601.5 216.4,604.5 214.6,606.5" fill="none" stroke="#262626" stroke-width="1.3"/><ellipse cx="228.0" cy="587.9" rx="3.05" ry="2.35" fill="none" stroke="#262626" stroke-width="1.35"/></g>
<g transform="translate(357.80,0)"><path d="M200.0,614.8C201.3,609.5 203.2,601 205.3,596C207,591.8 209.6,589.1 213.1,589.1C216,589.1 217.6,590.7 217.3,592.9C217,595.4 214.2,597.3 210.3,597.4M210.3,597.4C213.8,597.3 216.4,599 216.3,602.1C216.2,605.8 212.9,608.8 208.9,608.8C206.1,608.8 204.1,607.6 203.0,605.6" fill="none" stroke="#262626" stroke-width="1.25" stroke-linecap="round"/><path d="M215.6,599.5C216.6,601.5 216.4,604.5 214.6,606.5" fill="none" stroke="#262626" stroke-width="1.3"/><ellipse cx="228.0" cy="587.9" rx="3.05" ry="2.35" fill="none" stroke="#262626" stroke-width="1.35"/></g>
</svg>
</body></html>
